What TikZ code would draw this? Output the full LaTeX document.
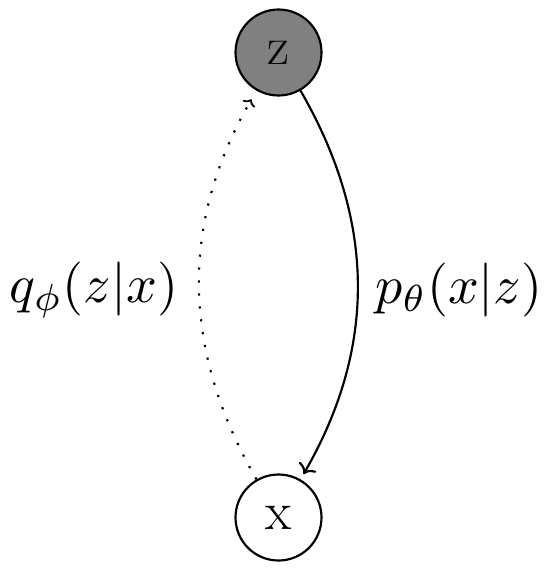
\documentclass[tikz,border=0pt]{standalone}
\usetikzlibrary{arrows.meta}
\tikzset{
  bigfont/.style={font=\fontsize{54}{64}\selectfont},
  latent/.style={circle, draw, line width=2.16pt, minimum size=86pt, inner sep=0pt, fill=black!50, bigfont},
  observed/.style={circle, draw, line width=2.16pt, minimum size=86pt, inner sep=0pt, fill=white, bigfont},
  gen/.style={line width=2.16pt, -{To[length=9pt,width=20pt,line width=2.16pt]}, shorten >=6pt},
  inf/.style={line width=2.16pt, dash pattern=on 2.16pt off 10.8pt, -{To[length=6pt,width=14pt,line width=1.8pt]}, shorten >=10pt},
  lbl/.style={inner sep=0pt}
}
\begin{document}
\begin{tikzpicture}[x=1pt,y=1pt]
  \useasboundingbox (0,0) rectangle (550,-580);
  \node[latent] (z) at (278.5,-52.5) {z};
  \node[observed] (x) at (278.5,-517.5) {x};
  \draw[gen] (z) to[bend left=30] (x);
  \draw[inf] (x) to[bend left=30] (z);
  \node[lbl] (q) at (94,-290) {\scalebox{5.4}{$q_\phi(z|x)$}};
  \node[lbl] (p) at (459,-290) {\scalebox{5.4}{$p_\theta(x|z)$}};
\end{tikzpicture}
\end{document}
